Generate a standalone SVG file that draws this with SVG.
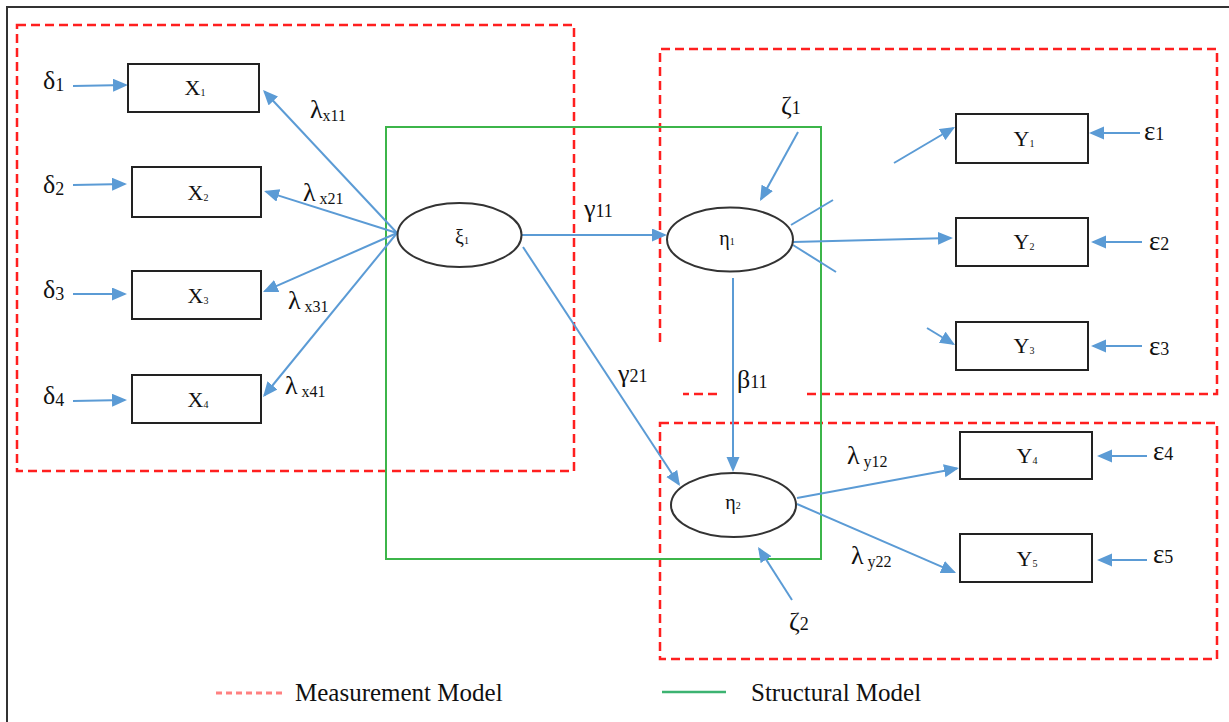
<svg xmlns="http://www.w3.org/2000/svg" width="1229" height="722" viewBox="0 0 1229 722">
  <defs>
    <marker id="ah" markerUnits="userSpaceOnUse" markerWidth="16" markerHeight="14" refX="13" refY="6.5" orient="auto">
      <path d="M0,0 L15,6.5 L0,13 z" fill="#5b9bd5"/>
    </marker>
  </defs>
  <style>
    .conn{stroke:#5b9bd5;stroke-width:2;fill:none}
    .arr{marker-end:url(#ah)}
    .box{fill:#fff;stroke:#222;stroke-width:2}
    .ell{fill:#fff;stroke:#333;stroke-width:2}
    .meas{fill:none;stroke:#ff1f1f;stroke-width:2.5;stroke-dasharray:9,5}
    .struct{fill:none;stroke:#3cb54a;stroke-width:2}
    text{font-family:"Liberation Serif","Times New Roman",serif;fill:#111}
    .lbl{font-size:22px;text-anchor:middle}
    .nsub{font-size:10px}
    .lat{font-size:20px;text-anchor:middle}
    .gr{font-size:26px}
    .gs{font-size:18px}
    .eps{font-size:27px}
    .ls{font-size:16px}
    .leg{font-size:25px}
  </style>

  <!-- frame -->
  <path d="M7,722 V7 H1229" fill="none" stroke="#333" stroke-width="2"/>

  <!-- measurement model regions -->
  <g id="measurement-regions">
    <rect class="meas" x="17" y="25" width="557" height="446"/>
    <path class="meas" d="M660,342 V49 H1217 V394 H802 M717,394 H683"/>
    <rect class="meas" x="660" y="423" width="557" height="236"/>
  </g>

  <!-- structural model region -->
  <rect id="structural-region" class="struct" x="386" y="127" width="435" height="432"/>

  <!-- connectors -->
  <g id="connectors">
    <path class="conn arr" d="M73,86 L126,85"/>
    <path class="conn arr" d="M73,185 L125,184"/>
    <path class="conn arr" d="M73,294 L125,294"/>
    <path class="conn arr" d="M73,401 L125,400"/>

    <path class="conn arr" d="M397,233 L264.4,91.5"/>
    <path class="conn arr" d="M397,233 L266,191.6"/>
    <path class="conn arr" d="M397,233 L264.8,291.2"/>
    <path class="conn arr" d="M397,233 L264.3,395.5"/>

    <path class="conn arr" d="M522,235 L665,235"/>
    <path class="conn arr" d="M523,247 L678.9,484.3"/>
    <path class="conn arr" d="M733,278 L733,470"/>
    <path class="conn arr" d="M798,132 L761,199.2"/>

    <path class="conn arr" d="M793,242 L951,238"/>
    <path class="conn" d="M791,225 L833,200"/>
    <path class="conn" d="M793,245 L836,272"/>
    <path class="conn arr" d="M894,163 L953.3,128"/>
    <path class="conn arr" d="M927,328 L953.3,344"/>

    <path class="conn arr" d="M1140,133 L1091,133"/>
    <path class="conn arr" d="M1142,242 L1093,242"/>
    <path class="conn arr" d="M1142,346 L1093,346"/>
    <path class="conn arr" d="M1147,456 L1099,456"/>
    <path class="conn arr" d="M1147,560 L1099,560"/>

    <path class="conn arr" d="M797,498 L957,468.4"/>
    <path class="conn arr" d="M797,504 L954.2,572.2"/>
    <path class="conn arr" d="M792,600 L759.1,548.7"/>
  </g>

  <!-- observed exogenous indicators -->
  <g id="X1"><rect class="box" x="128" y="64" width="131" height="48"/><text class="lbl" x="195" y="95">X<tspan class="nsub" dy="1">1</tspan></text></g>
  <g id="X2"><rect class="box" x="132" y="167" width="129" height="50"/><text class="lbl" x="198" y="200">X<tspan class="nsub" dy="1">2</tspan></text></g>
  <g id="X3"><rect class="box" x="132" y="271" width="129" height="48"/><text class="lbl" x="198" y="303">X<tspan class="nsub" dy="1">3</tspan></text></g>
  <g id="X4"><rect class="box" x="132" y="375" width="129" height="48"/><text class="lbl" x="198" y="407">X<tspan class="nsub" dy="1">4</tspan></text></g>

  <!-- observed endogenous indicators -->
  <g id="Y1"><rect class="box" x="956" y="114" width="132" height="49"/><text class="lbl" x="1024" y="146">Y<tspan class="nsub" dy="1">1</tspan></text></g>
  <g id="Y2"><rect class="box" x="956" y="218" width="132" height="48"/><text class="lbl" x="1024" y="249">Y<tspan class="nsub" dy="1">2</tspan></text></g>
  <g id="Y3"><rect class="box" x="956" y="322" width="132" height="48"/><text class="lbl" x="1024" y="353">Y<tspan class="nsub" dy="1">3</tspan></text></g>
  <g id="Y4"><rect class="box" x="960" y="432" width="132" height="47"/><text class="lbl" x="1027" y="463">Y<tspan class="nsub" dy="1">4</tspan></text></g>
  <g id="Y5"><rect class="box" x="960" y="534" width="132" height="48"/><text class="lbl" x="1027" y="566">Y<tspan class="nsub" dy="1">5</tspan></text></g>

  <!-- latent variables -->
  <g id="xi1"><ellipse class="ell" cx="459.5" cy="235" rx="62" ry="32"/><text class="lat" x="462" y="244">ξ<tspan class="nsub">1</tspan></text></g>
  <g id="eta1"><ellipse class="ell" cx="730" cy="239.5" rx="63" ry="32"/><text class="lat" x="727" y="245">η<tspan class="nsub">1</tspan></text></g>
  <g id="eta2"><ellipse class="ell" cx="733.5" cy="505" rx="62.5" ry="32"/><text class="lat" x="733" y="509">η<tspan class="nsub">2</tspan></text></g>

  <!-- error terms -->
  <g id="errors">
    <text class="gr" x="43" y="89">δ<tspan class="gs" dy="2">1</tspan></text>
    <text class="gr" x="43" y="193">δ<tspan class="gs" dy="2">2</tspan></text>
    <text class="gr" x="43" y="298">δ<tspan class="gs" dy="2">3</tspan></text>
    <text class="gr" x="43" y="404">δ<tspan class="gs" dy="2">4</tspan></text>
    <text class="eps" x="1144" y="140">ε<tspan class="gs">1</tspan></text>
    <text class="eps" x="1149" y="250">ε<tspan class="gs">2</tspan></text>
    <text class="eps" x="1149" y="355">ε<tspan class="gs">3</tspan></text>
    <text class="eps" x="1153" y="460">ε<tspan class="gs">4</tspan></text>
    <text class="eps" x="1153" y="563">ε<tspan class="gs">5</tspan></text>
    <text class="gr" x="781" y="114">ζ<tspan class="gs">1</tspan></text>
    <text class="gr" x="789" y="630">ζ<tspan class="gs">2</tspan></text>
  </g>

  <!-- path coefficients -->
  <g id="coefficients">
    <text class="gr" x="310" y="118">λ<tspan class="ls" dy="3">x11</tspan></text>
    <text class="gr" x="303" y="201">λ<tspan class="ls" dx="4" dy="3">x21</tspan></text>
    <text class="gr" x="288" y="309">λ<tspan class="ls" dx="4" dy="3">x31</tspan></text>
    <text class="gr" x="285" y="394">λ<tspan class="ls" dx="4" dy="3">x41</tspan></text>
    <text class="gr" x="584" y="217">γ<tspan class="gs">11</tspan></text>
    <text class="gr" x="618" y="382">γ<tspan class="gs">21</tspan></text>
    <text class="gr" x="737" y="388">β<tspan class="gs">11</tspan></text>
    <text class="gr" x="847" y="464">λ<tspan class="ls" dx="4" dy="3">y12</tspan></text>
    <text class="gr" x="851" y="564">λ<tspan class="ls" dx="4" dy="3">y22</tspan></text>
  </g>

  <!-- legend -->
  <g id="legend">
    <line x1="216" y1="693" x2="283" y2="693" stroke="#ff8080" stroke-width="3" stroke-dasharray="6,4"/>
    <text class="leg" x="295" y="701">Measurement Model</text>
    <line x1="662" y1="692" x2="726" y2="692" stroke="#3cb371" stroke-width="2.5"/>
    <text class="leg" x="751" y="701">Structural Model</text>
  </g>
</svg>
